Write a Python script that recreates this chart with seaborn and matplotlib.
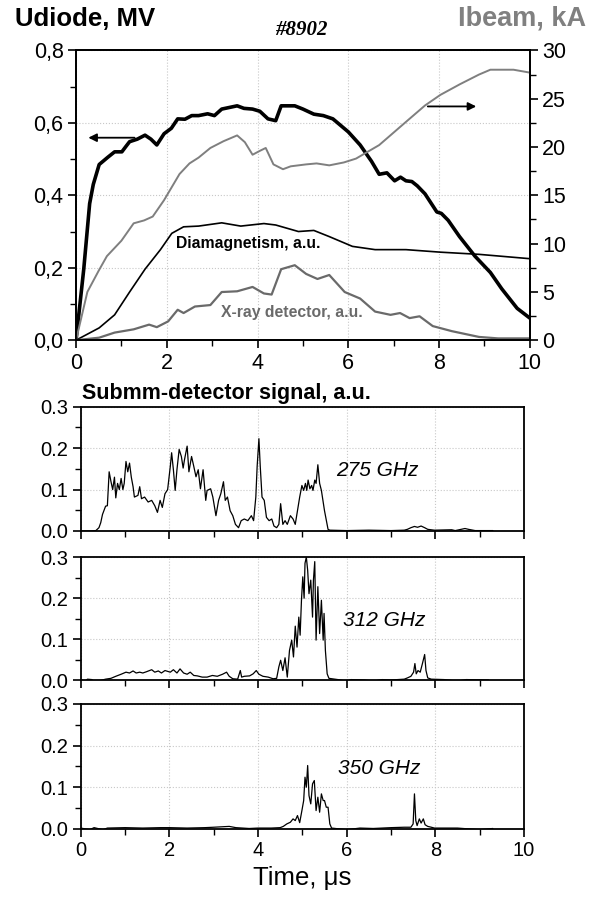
import numpy as np
import pandas as pd
import seaborn as sns
import matplotlib.pyplot as plt
from matplotlib.ticker import MultipleLocator

### data

# top panel: Udiode (MV, left axis)
t_u = [0, 0.17, 0.3, 0.38, 0.51, 0.7, 0.85, 1.01, 1.1, 1.18, 1.35, 1.52, 1.65, 1.78, 1.94, 2.1,
       2.24, 2.4, 2.55, 2.7, 2.9, 3.05, 3.21, 3.55, 3.7, 3.89, 4.05, 4.23, 4.4, 4.52, 4.82, 5.0,
       5.24, 5.45, 5.66, 6.0, 6.26, 6.51, 6.68, 6.85, 7.02, 7.15, 7.27, 7.4, 7.52, 7.69, 7.95,
       8.05, 8.2, 8.45, 8.79, 9.13, 9.38, 9.72, 10]
u_diode = [0, 0.196, 0.377, 0.43, 0.485, 0.505, 0.52, 0.52, 0.535, 0.548, 0.555, 0.566, 0.555,
           0.539, 0.57, 0.585, 0.611, 0.61, 0.62, 0.62, 0.625, 0.62, 0.638, 0.647, 0.64, 0.638,
           0.632, 0.611, 0.606, 0.647, 0.647, 0.638, 0.624, 0.62, 0.611, 0.575, 0.539, 0.494,
           0.458, 0.462, 0.44, 0.45, 0.44, 0.438, 0.426, 0.404, 0.354, 0.35, 0.331, 0.286, 0.232,
           0.187, 0.142, 0.088, 0.061]

# top panel: Ibeam (kA, right axis)
t_i = [0, 0.25, 0.5, 0.68, 1.0, 1.27, 1.5, 1.69, 1.94, 2.28, 2.5, 2.7, 2.96, 3.25, 3.55, 3.72, 3.89,
       4.05, 4.18, 4.35, 4.56, 4.73, 5.07, 5.3, 5.58, 5.9, 6.17, 6.68, 7.27, 7.69, 8.03, 8.46,
       8.88, 9.13, 9.64, 10]
i_beam = [0, 5.0, 7.2, 8.7, 10.3, 12.1, 12.4, 12.8, 14.5, 17.2, 18.3, 18.9, 19.9, 20.6, 21.2,
          20.5, 19.2, 19.6, 19.9, 18.2, 17.7, 18.0, 18.2, 18.3, 18.1, 18.4, 18.8, 20.2, 22.6, 24.3,
          25.4, 26.5, 27.5, 28.0, 28.0, 27.7]

# top panel: diamagnetism (a.u., left axis scale)
t_d = [0, 0.51, 0.85, 1.18, 1.52, 1.86, 2.11, 2.37, 2.7, 3.21, 3.63, 4.14, 4.4, 4.9, 5.24, 5.58,
       6.09, 6.59, 7.27, 8.03, 8.88, 10]
diamag = [0, 0.034, 0.07, 0.133, 0.196, 0.25, 0.295, 0.313, 0.315, 0.324, 0.315, 0.322, 0.318,
          0.3, 0.303, 0.286, 0.259, 0.25, 0.25, 0.243, 0.237, 0.225]

# top panel: X-ray detector (a.u., left axis scale)
t_x = [0, 0.51, 0.85, 1.27, 1.61, 1.78, 2.03, 2.24, 2.37, 2.62, 2.96, 3.21, 3.55, 3.89, 4.14, 4.31,
       4.52, 4.82, 5.07, 5.32, 5.58, 5.92, 6.26, 6.59, 6.93, 7.14, 7.35, 7.57, 7.86, 8.28, 8.88,
       9.3, 10]
xray = [0, 0.007, 0.021, 0.03, 0.043, 0.036, 0.052, 0.084, 0.075, 0.093, 0.097, 0.133, 0.135,
        0.147, 0.129, 0.126, 0.196, 0.207, 0.183, 0.169, 0.18, 0.133, 0.115, 0.079, 0.07, 0.075,
        0.061, 0.066, 0.039, 0.025, 0.009, 0.005, 0.005]

# submm detector, 275 GHz
t_275 = [0.0, 0.2, 0.34, 0.41, 0.45, 0.49, 0.56, 0.6, 0.64, 0.68, 0.72, 0.76, 0.79, 0.83, 0.87,
         0.91, 0.95, 0.98, 1.02, 1.06, 1.1, 1.14, 1.18, 1.21, 1.29, 1.33, 1.37, 1.44, 1.52, 1.6,
         1.67, 1.73, 1.79, 1.84, 1.9, 1.96, 2.02, 2.05, 2.09, 2.13, 2.17, 2.22, 2.27, 2.31, 2.34,
         2.4, 2.44, 2.5, 2.55, 2.6, 2.65, 2.7, 2.76, 2.82, 2.85, 2.93, 2.98, 3.05, 3.11, 3.16,
         3.22, 3.26, 3.31, 3.37, 3.43, 3.49, 3.56, 3.62, 3.69, 3.77, 3.85, 3.9, 3.95, 3.98, 4.02,
         4.05, 4.09, 4.14, 4.19, 4.25, 4.31, 4.36, 4.42, 4.47, 4.51, 4.56, 4.61, 4.66, 4.73, 4.79,
         4.84, 4.89, 4.94, 4.99, 5.03, 5.07, 5.1, 5.13, 5.17, 5.21, 5.24, 5.28, 5.31, 5.35, 5.39,
         5.43, 5.5, 5.58, 5.62, 6.0, 6.5, 7.0, 7.3, 7.37, 7.45, 7.53, 7.6, 7.68, 7.76, 7.83, 7.98,
         8.37, 8.45, 8.67, 8.75, 8.9, 9.3]
s_275 = [0.0, 0.0, 0.001, 0.008, 0.02, 0.04, 0.06, 0.061, 0.143, 0.12, 0.1, 0.13, 0.08, 0.115, 0.1,
         0.127, 0.1, 0.115, 0.168, 0.143, 0.164, 0.13, 0.107, 0.082, 0.086, 0.107, 0.078, 0.082,
         0.07, 0.074, 0.061, 0.045, 0.074, 0.057, 0.09, 0.1, 0.156, 0.189, 0.148, 0.098, 0.148,
         0.197, 0.18, 0.152, 0.172, 0.205, 0.143, 0.18, 0.156, 0.131, 0.148, 0.102, 0.148, 0.074,
         0.098, 0.102, 0.082, 0.037, 0.074, 0.09, 0.119, 0.074, 0.082, 0.049, 0.037, 0.016, 0.008,
         0.025, 0.029, 0.025, 0.037, 0.025, 0.082, 0.156, 0.223, 0.156, 0.082, 0.074, 0.033, 0.025,
         0.029, 0.012, 0.008, 0.016, 0.066, 0.016, 0.025, 0.016, 0.037, 0.029, 0.016, 0.049, 0.082,
         0.11, 0.098, 0.115, 0.098, 0.123, 0.102, 0.11, 0.098, 0.123, 0.115, 0.16, 0.115, 0.098,
         0.049, 0.004, 0.002, 0.001, 0.002, 0.001, 0.002, 0.004, 0.008, 0.011, 0.009, 0.012, 0.008,
         0.004, 0.002, 0.003, 0.001, 0.006, 0.004, 0.001, 0.001]

# submm detector, 312 GHz
t_312 = [0.0, 0.1, 0.15, 0.25, 0.3, 0.45, 0.56, 0.68, 0.79, 0.91, 1.02, 1.1, 1.18, 1.25, 1.33, 1.4,
         1.48, 1.6, 1.67, 1.75, 1.82, 1.9, 2.02, 2.09, 2.17, 2.24, 2.32, 2.4, 2.47, 2.55, 2.63,
         2.74, 2.85, 2.97, 3.08, 3.2, 3.29, 3.35, 3.43, 3.54, 3.6, 3.63, 3.69, 3.81, 3.89, 3.96,
         4.02, 4.11, 4.23, 4.34, 4.42, 4.47, 4.51, 4.56, 4.61, 4.66, 4.71, 4.76, 4.8, 4.84, 4.88,
         4.92, 4.95, 4.98, 5.01, 5.04, 5.06, 5.09, 5.12, 5.15, 5.19, 5.23, 5.25, 5.28, 5.31, 5.35,
         5.39, 5.43, 5.47, 5.49, 5.52, 5.56, 5.6, 5.8, 6.0, 6.1, 6.4, 6.6, 6.8, 7.0, 7.3, 7.37,
         7.45, 7.51, 7.54, 7.57, 7.61, 7.66, 7.71, 7.76, 7.79, 7.83, 7.91, 8.2, 8.5, 8.7, 9.2]
s_312 = [0.002, -0.003, 0.003, 0.002, -0.003, 0.0, 0.003, 0.005, 0.01, 0.015, 0.02, 0.018, 0.023,
         0.018, 0.02, 0.018, 0.021, 0.026, 0.02, 0.023, 0.018, 0.024, 0.02, 0.026, 0.018, 0.028,
         0.018, 0.015, 0.02, 0.012, 0.011, 0.008, 0.008, 0.012, 0.01, 0.015, 0.02, 0.01, 0.004,
         0.003, 0.024, 0.008, 0.01, 0.011, 0.016, 0.024, 0.015, 0.01, 0.008, 0.004, 0.005, 0.033,
         0.049, 0.024, 0.055, 0.008, 0.073, 0.098, 0.057, 0.132, 0.081, 0.154, 0.11, 0.195, 0.252,
         0.2, 0.285, 0.3, 0.268, 0.211, 0.244, 0.154, 0.244, 0.289, 0.098, 0.228, 0.114, 0.195,
         0.098, 0.163, 0.073, 0.016, 0.005, 0.002, -0.002, 0.002, 0.001, -0.002, 0.002, 0.001,
         0.003, 0.006, 0.01, 0.02, 0.041, 0.016, 0.024, 0.02, 0.041, 0.063, 0.024, 0.006, 0.003,
         0.002, -0.002, 0.002, 0.001]

# submm detector, 350 GHz
t_350 = [0.0, 0.2, 0.3, 0.5, 0.6, 1.0, 1.4, 1.8, 2.0, 2.4, 2.8, 3.0, 3.35, 3.5, 3.8, 4.0, 4.3, 4.5,
         4.57, 4.65, 4.73, 4.79, 4.84, 4.89, 4.94, 4.99, 5.03, 5.06, 5.09, 5.12, 5.15, 5.19, 5.23,
         5.27, 5.31, 5.35, 5.39, 5.43, 5.47, 5.5, 5.54, 5.58, 5.62, 5.66, 6.0, 6.3, 6.6, 7.0, 7.3,
         7.45, 7.5, 7.53, 7.56, 7.59, 7.64, 7.68, 7.73, 7.77, 7.83, 7.91, 7.98, 8.5, 9.0, 9.3]
s_350 = [0.002, -0.002, 0.003, -0.002, 0.002, 0.003, 0.002, 0.003, 0.003, 0.002, 0.003, 0.004,
         0.006, 0.003, 0.001, 0.002, 0.002, 0.003, 0.006, 0.012, 0.016, 0.024, 0.02, 0.032, 0.015,
         0.044, 0.068, 0.124, 0.1, 0.152, 0.08, 0.06, 0.108, 0.116, 0.044, 0.076, 0.04, 0.084,
         0.068, 0.068, 0.052, 0.052, 0.012, 0.002, -0.002, 0.002, 0.001, 0.003, 0.004, 0.004,
         0.012, 0.084, 0.02, 0.008, 0.024, 0.014, 0.024, 0.01, 0.006, 0.004, 0.002, 0.002, -0.002,
         0.001]

freq_labels = ['275 GHz', '312 GHz', '350 GHz']

### style
sns.set_style('ticks')
plt.rcParams['font.family'] = ['Liberation Sans', 'DejaVu Sans']
plt.rcParams['xtick.direction'] = 'out'
plt.rcParams['ytick.direction'] = 'out'
plt.rcParams['text.color'] = 'black'
plt.rcParams['axes.labelcolor'] = 'black'
plt.rcParams['xtick.color'] = 'black'
plt.rcParams['ytick.color'] = 'black'
plt.rcParams['axes.edgecolor'] = 'black'

grid_kw = dict(ls=':', color='#c8c8c8', lw=0.8)

fig = plt.figure(figsize=(5.94, 9), dpi=100)

'''
top panel: Udiode / Ibeam / diamagnetism / X-ray
'''
ax = fig.add_axes([0.128, 0.622, 0.764, 0.322])
ax2 = ax.twinx()

sns.lineplot(x=t_i, y=i_beam, ax=ax2, color='#7f7f7f', lw=1.4, sort=False, estimator=None)
sns.lineplot(x=t_d, y=diamag, ax=ax, color='black', lw=1.2, sort=False, estimator=None)
sns.lineplot(x=t_x, y=xray, ax=ax, color='#6a6a6a', lw=1.6, sort=False, estimator=None)
sns.lineplot(x=t_u, y=u_diode, ax=ax, color='black', lw=2.6, sort=False, estimator=None)

ax.set_xlim(0, 10)
ax.set_ylim(0, 0.8)
ax2.set_ylim(0, 30)
ax.xaxis.set_major_locator(MultipleLocator(2))
ax.xaxis.set_minor_locator(MultipleLocator(1))
ax.set_yticks([0, 0.2, 0.4, 0.6, 0.8])
ax.set_yticklabels(['0,0', '0,2', '0,4', '0,6', '0,8'])
ax.yaxis.set_minor_locator(MultipleLocator(0.1))
ax2.yaxis.set_major_locator(MultipleLocator(5))
ax2.yaxis.set_minor_locator(MultipleLocator(2.5))
ax.tick_params(labelsize=15.5, width=1.2, length=6, pad=3)
ax.tick_params(which='minor', width=1.0, length=4)
ax2.tick_params(labelsize=15.5, width=1.2, length=6, pad=3)
ax2.tick_params(which='minor', width=1.0, length=4)
ax.grid(True, which='major', **grid_kw)
for a in (ax, ax2):
    for s in a.spines.values():
        s.set_visible(True)
        s.set_linewidth(1.3)
ax.set_xlabel('')
ax.set_ylabel('')
ax2.set_ylabel('')

ax.annotate('', xy=(0.21, 0.559), xytext=(1.35, 0.559),
            arrowprops=dict(arrowstyle='-|>', color='black', lw=1.3, mutation_scale=12))
ax2.annotate('', xy=(8.88, 24.2), xytext=(7.69, 24.2),
             arrowprops=dict(arrowstyle='-|>', color='black', lw=1.3, mutation_scale=12))
ax.text(3.8, 0.268, 'Diamagnetism, a.u.', fontsize=11.3, fontweight='bold', ha='center', va='center')
ax.text(4.75, 0.077, 'X-ray detector, a.u.', fontsize=11.3, fontweight='bold', color='#6a6a6a',
        ha='center', va='center')

fig.text(15 / 594, 1 - 19 / 900, 'Udiode, MV', fontsize=18.5, fontweight='bold', ha='left', va='center')
fig.text(586 / 594, 1 - 19 / 900, 'Ibeam, kA', fontsize=19.5, fontweight='bold', color='#808080',
         ha='right', va='center')
fig.text(301 / 594, 1 - 30 / 900, '#8902', fontsize=15, fontweight='bold', fontstyle='italic',
         family='Liberation Serif', ha='center', va='center')

'''
lower panels: submm detector signals
'''
sig_t = [t_275, t_312, t_350]
sig_v = [s_275, s_312, s_350]
boxes = [[0.136, 0.41, 0.746, 0.138],
         [0.136, 0.244, 0.746, 0.137],
         [0.136, 0.079, 0.746, 0.139]]

for k in range(3):
    axk = fig.add_axes(boxes[k])
    sns.lineplot(x=sig_t[k], y=sig_v[k], ax=axk, color='black', lw=0.9, sort=False, estimator=None)
    axk.set_xlim(0, 10)
    axk.set_ylim(0, 0.3)
    axk.xaxis.set_major_locator(MultipleLocator(2))
    axk.xaxis.set_minor_locator(MultipleLocator(1))
    axk.set_yticks([0, 0.1, 0.2, 0.3])
    axk.set_yticklabels(['0.0', '0.1', '0.2', '0.3'])
    axk.yaxis.set_minor_locator(MultipleLocator(0.05))
    axk.tick_params(labelsize=14.5, width=1.2, length=6, pad=3)
    axk.tick_params(which='minor', width=1.0, length=4)
    axk.grid(True, which='major', **grid_kw)
    for s in axk.spines.values():
        s.set_visible(True)
        s.set_linewidth(1.3)
    axk.set_ylabel('')
    if k < 2:
        axk.tick_params(labelbottom=False)
        axk.set_xlabel('')
    else:
        axk.set_xlabel('Time, μs', fontsize=18.5, labelpad=4)
    axk.text([6.69, 6.84, 6.73][k], 0.146, freq_labels[k], fontsize=15, fontstyle='italic',
             ha='center', va='center')

fig.text(82 / 594, 1 - 393 / 900, 'Submm-detector signal, a.u.', fontsize=15.5, fontweight='bold',
         ha='left', va='center')

plt.savefig('out.png', dpi=100)
plt.close()
